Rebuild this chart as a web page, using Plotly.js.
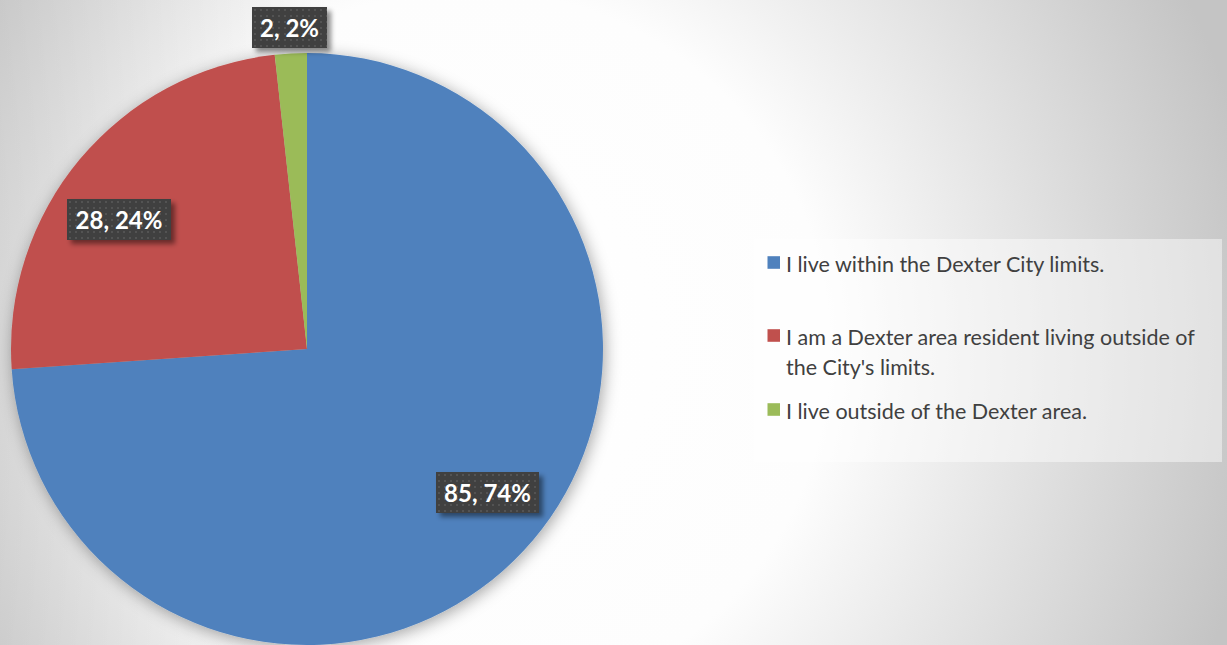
<!DOCTYPE html>
<html>
<head>
<meta charset="utf-8">
<script src="https://cdn.plot.ly/plotly-3.0.1.min.js"></script>
<style>
  html, body { margin: 0; padding: 0; }
  body {
    width: 1227px; height: 645px; overflow: hidden;
    background:
      linear-gradient(to right, rgba(0,0,0,0.10) 0px, rgba(0,0,0,0) 330px),
      radial-gradient(circle at 470px 350px, #ffffff 0px, #fdfdfd 360px, #c4c4c4 800px);
  }
  #chart { width: 1227px; height: 645px; }
</style>
</head>
<body>
<div id="chart"></div>
<script>
// ---- data ----
const categories = [
  "I live within the Dexter City limits.",
  "I am a Dexter area resident living outside of the City's limits.",
  "I live outside of the Dexter area."
];
const counts = [85, 28, 2];
const sliceColors = ["#4F81BD", "#C0504D", "#9BBB59"];

// ---- layout constants (pixels) ----
const W = 1227, H = 645;
const px = x => x / W;
const py = y => 1 - y / H;

const total = counts.reduce((a, b) => a + b, 0);
const labelTexts = counts.map(v => v + ", " + Math.round(v / total * 100) + "%");
const labelCenters = [[487.5, 492.5], [119, 220], [289.5, 28]];
const labelBoxW = [99, 100, 71];

const legendSquareY = [262.5, 335.5, 409.5];
const legendLineGap = 30.5;

function wrap(text, maxChars) {
  const words = text.split(" ");
  const lines = [];
  let cur = "";
  words.forEach(w => {
    if ((cur + " " + w).trim().length > maxChars) { lines.push(cur); cur = w; }
    else cur = (cur + " " + w).trim();
  });
  if (cur) lines.push(cur);
  return lines;
}

const annotations = [];
const shapes = [];

// data labels
labelTexts.forEach((t, i) => {
  annotations.push({
    xref: "paper", yref: "paper",
    x: px(labelCenters[i][0]), y: py(labelCenters[i][1]),
    xanchor: "center", yanchor: "middle",
    text: "<b>" + t + "</b>",
    showarrow: false,
    font: { family: "Lato, 'Open Sans', sans-serif", size: 24, color: "#ffffff" },
    bgcolor: "#404040",
    borderpad: 2, borderwidth: 0,
    width: labelBoxW[i], height: 37
  });
});

// legend box
shapes.push({
  type: "rect", xref: "paper", yref: "paper",
  x0: px(754), x1: px(1222), y0: py(462), y1: py(239),
  fillcolor: "rgba(255,255,255,0.45)", line: { width: 0 }, layer: "below"
});

// legend entries
categories.forEach((c, i) => {
  const yc = legendSquareY[i];
  shapes.push({
    type: "rect", xref: "paper", yref: "paper",
    x0: px(767.5), x1: px(780), y0: py(yc + 6.3), y1: py(yc - 6.3),
    fillcolor: sliceColors[i], line: { width: 0 }
  });
  const lines = wrap(c, 45);
  lines.forEach((ln, k) => {
    annotations.push({
      xref: "paper", yref: "paper",
      x: px(784), y: py(yc + 1 + k * legendLineGap),
      xanchor: "left", yanchor: "middle",
      text: ln, showarrow: false,
      font: { family: "Lato, 'Open Sans', sans-serif", size: 21.5, color: "#404040" }
    });
  });
});

const trace = {
  type: "pie",
  labels: categories,
  values: counts,
  sort: false,
  direction: "clockwise",
  rotation: 0,
  marker: { colors: sliceColors, line: { width: 0 } },
  textinfo: "none",
  hoverinfo: "none",
  showlegend: false,
  domain: { x: [px(10), px(604)], y: [0, py(53)] }
};

const layout = {
  width: W, height: H,
  margin: { l: 0, r: 0, t: 0, b: 0, pad: 0 },
  paper_bgcolor: "rgba(0,0,0,0)",
  plot_bgcolor: "rgba(0,0,0,0)",
  showlegend: false,
  annotations: annotations,
  shapes: shapes
};

Plotly.newPlot("chart", [trace], layout, { displayModeBar: false, staticPlot: true }).then(gd => {
  const NS = "http://www.w3.org/2000/svg";
  const svg = gd.querySelector(".main-svg");
  let defs = svg.querySelector("defs");
  if (!defs) { defs = document.createElementNS(NS, "defs"); svg.insertBefore(defs, svg.firstChild); }
  defs.insertAdjacentHTML("beforeend",
    '<filter id="pieShadow" x="-20%" y="-20%" width="140%" height="140%">' +
      '<feDropShadow dx="2" dy="3" stdDeviation="8" flood-color="#000" flood-opacity="0.35"/>' +
    '</filter>' +
    '<filter id="boxShadow" x="-20%" y="-30%" width="150%" height="170%">' +
      '<feDropShadow dx="4" dy="4" stdDeviation="2.5" flood-color="#000" flood-opacity="0.45"/>' +
    '</filter>' +
    '<pattern id="dots" x="0" y="0" width="6" height="6" patternUnits="userSpaceOnUse">' +
      '<rect width="6" height="6" fill="#404040"/>' +
      '<rect x="2" y="2" width="2" height="2" fill="#525252"/>' +
    '</pattern>');
  const pie = gd.querySelector(".pielayer");
  if (pie) pie.setAttribute("filter", "url(#pieShadow)");
  const anns = gd.querySelectorAll(".annotation");
  for (let i = 0; i < labelTexts.length && i < anns.length; i++) {
    const bg = anns[i].querySelector("rect.bg");
    if (bg) {
      bg.setAttribute("filter", "url(#boxShadow)");
      bg.style.fill = "url(#dots)";
    }
  }
});
</script>
</body>
</html>
